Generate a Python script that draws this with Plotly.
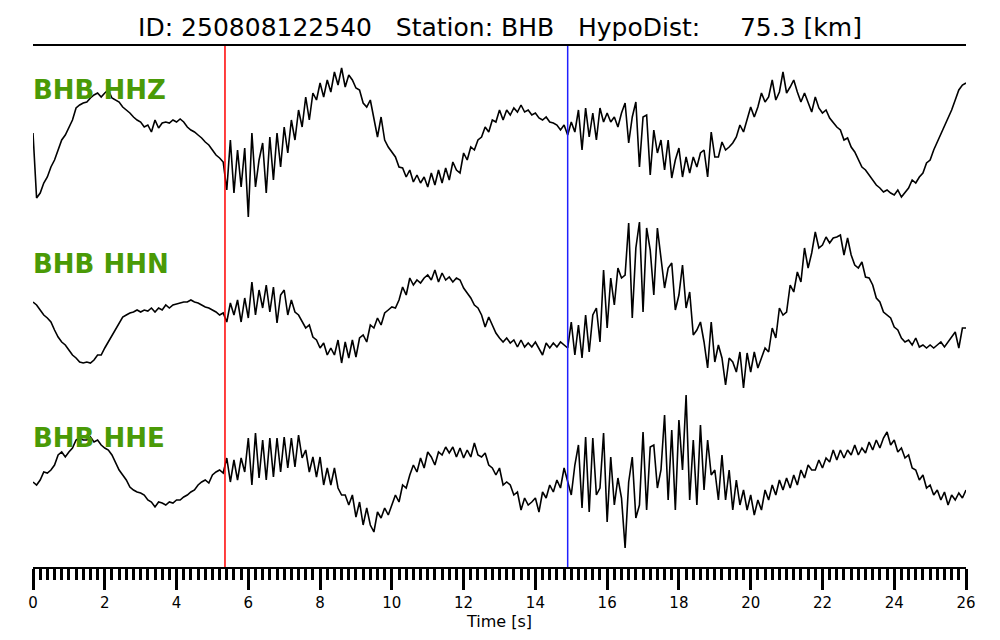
import numpy as np
import plotly.graph_objects as go

# ---- data ----
DT = 0.1  # sampling interval [s]
P_PICK = 5.35   # s
S_PICK = 14.9   # s
STATION = "BHB"
EVENT_ID = "250808122540"
HYPO_DIST = 75.3
CHANNELS = ["HHZ", "HHN", "HHE"]

hhz = [
    10, -55, -50, -40, -34, -24, -17, -7, 3, 8,
    15, 23, 35, 38, 40, 41, 45, 48, 50, 46,
    50, 53, 45, 43, 41, 36, 33, 30, 26, 23,
    21, 16, 18, 11, 23, 15, 20, 21, 20, 23,
    21, 24, 21, 16, 13, 11, 8, 5, 1, -2,
    -7, -12, -15, -19, -47, 3, -50, -7, -44, -5,
    -74, 10, -44, -17, 0, -50, 6, -37, 10, -24,
    16, -10, 23, 3, 33, 16, 46, 23, 50, 43,
    60, 46, 63, 51, 71, 58, 75, 56, 68, 63,
    55, 53, 40, 36, 43, 26, 6, 26, 3, -4,
    -9, -14, -24, -25, -34, -27, -39, -32, -40, -34,
    -44, -30, -42, -27, -40, -25, -37, -19, -27, -30,
    -10, -17, -4, -7, 3, 6, 16, 11, 23, 21,
    33, 23, 33, 28, 35, 31, 38, 31, 33, 28,
    30, 25, 23, 26, 21, 20, 18, 13, 18, 8,
    21, 11, 33, -7, 35, 6, 30, 3, 35, 21,
    30, 21, 26, 16, 30, 40, 0, 26, 41, -24,
    26, 28, -32, 13, -10, 3, -27, 3, -35, -17,
    -5, -34, -14, -30, -14, -24, -10, -7, -34, 11,
    -14, -14, 1, -7, -4, 0, 6, 18, 11, 23,
    36, 26, 36, 50, 41, 46, 63, 43, 51, 71,
    50, 56, 63, 51, 41, 50, 41, 31, 46, 35,
    30, 33, 25, 20, 16, 13, 3, 5, -4, -9,
    -17, -24, -27, -32, -37, -42, -45, -49, -47, -50,
    -52, -47, -54, -50, -45, -37, -40, -34, -30, -20,
    -17, -7, 1, 10, 18, 26, 33, 43, 53, 58,
    60,
]

hhn = [
    3, 0, -5, -10, -13, -17, -25, -32, -37, -40,
    -45, -50, -53, -57, -58, -57, -58, -55, -50, -50,
    -43, -37, -30, -25, -18, -12, -10, -8, -7, -5,
    -7, -5, -6, -3, -7, -3, -5, 0, -3, 0,
    1, 2, 3, 3, 5, 3, 2, 0, -2, -3,
    -5, -7, -10, -8, -17, 2, -10, 5, -17, 7,
    -13, 23, -10, 15, -3, 20, -7, 18, -18, 10,
    15, -10, 5, -7, -10, -17, -23, -20, -32, -35,
    -43, -38, -50, -43, -50, -35, -58, -37, -53, -35,
    -52, -33, -30, -37, -20, -23, -13, -20, -8, -5,
    -2, -3, 5, 18, 10, 27, 20, 25, 22, 27,
    30, 25, 35, 23, 32, 25, 28, 23, 27, 25,
    17, 12, 7, 0, -3, -10, -22, -12, -20, -28,
    -33, -37, -33, -38, -35, -42, -35, -42, -38, -42,
    -37, -43, -50, -38, -43, -38, -42, -37, -40, -43,
    -17, -50, -20, -53, -10, -47, -10, -3, -37, 35,
    -23, 27, 0, 37, 27, 30, 82, -13, 57, 83,
    -7, 77, 55, 10, 77, 47, 17, 37, 42, -5,
    10, 40, -3, 13, -30, -25, -17, -37, -63, -17,
    -57, -40, -53, -80, -53, -57, -67, -47, -83, -48,
    -67, -47, -63, -53, -43, -47, -23, -33, -3, -10,
    -7, 20, 13, 33, 23, 57, 37, 52, 73, 57,
    60, 68, 62, 67, 68, 70, 50, 67, 50, 40,
    37, 43, 28, 27, 20, 7, 3, -7, -10, -13,
    -22, -25, -33, -37, -35, -40, -33, -42, -40, -43,
    -40, -43, -40, -37, -42, -37, -33, -27, -43, -23,
    -23,
]

hhe = [
    -12, -15, -10, -2, -3, 0, 5, 15, 18, 13,
    18, 22, 30, 32, 30, 30, 33, 28, 30, 25,
    22, 20, 15, 7, 0, -5, -10, -17, -20, -22,
    -23, -25, -30, -32, -37, -32, -33, -35, -32, -33,
    -30, -30, -27, -25, -22, -20, -15, -12, -10, -13,
    -5, -2, 0, -3, 12, -12, 10, -10, 12, -2,
    32, -15, 37, -8, 30, -10, 32, -7, 32, -2,
    33, 2, 32, 3, 35, 12, 20, -2, 13, -7,
    13, -15, 2, -15, 2, -18, -25, -25, -35, -25,
    -47, -32, -55, -38, -55, -62, -42, -48, -38, -45,
    -35, -25, -32, -15, -18, -5, 5, -2, 12, 2,
    18, 13, 5, 18, 15, 23, 17, 23, 13, 22,
    12, 20, 13, 27, 15, 13, 17, 5, 2, -5,
    2, -15, -12, -15, -25, -22, -40, -28, -35, -32,
    -28, -42, -22, -28, -15, -22, -10, -18, 2, -12,
    -25, 5, 25, -38, 33, -42, 32, -25, -18, 37,
    -52, 13, -35, -8, -28, -78, -12, 13, -48, -35,
    38, -40, 23, 25, -18, 0, 55, -30, 40, -40,
    50, 0, 75, -30, 30, -35, 45, -20, 30, -5,
    0, -30, 15, -30, 0, -40, -10, -35, -20, -40,
    -25, -45, -30, -40, -20, -30, -15, -25, -10, -20,
    -8, -18, -5, -15, 0, -8, 5, 0, 0, 10,
    2, 12, 8, 20, 10, 20, 12, 20, 15, 25,
    15, 22, 17, 28, 20, 30, 22, 32, 38, 25,
    30, 18, 22, 12, 15, 2, 0, -10, -5, -18,
    -15, -25, -20, -30, -22, -35, -25, -30, -23, -28,
    -20,
]

xtick_vals = list(range(0, 27, 2))

# ---- figure ----
time = np.arange(len(hhz)) * DT
series = [hhz, hhn, hhe]
axes = ["y", "y2", "y3"]

fig = go.Figure()
for vals, ax in zip(series, axes):
    fig.add_trace(go.Scatter(x=time[:len(vals)], y=vals, mode="lines", yaxis=ax,
                             line=dict(color="black", width=1.6), hoverinfo="skip",
                             showlegend=False))

font_main = "DejaVu Sans, Verdana, sans-serif"
nb = "\u00a0"
title_txt = (f"ID: {EVENT_ID}{nb*3}Station: {STATION}{nb*3}HypoDist:{nb*5}"
             f"{HYPO_DIST:.1f} [km]")

yax_common = dict(visible=False, showgrid=False, zeroline=False, fixedrange=True,
                  automargin=False)

# the page body adds an 8 px offset, so the figure is 992x632
FIG_W, FIG_H = 992, 632

fig.update_layout(
    width=FIG_W, height=FIG_H,
    margin=dict(l=25, r=34, t=38, b=73, autoexpand=False),
    paper_bgcolor="white", plot_bgcolor="white",
    title=dict(text=title_txt, x=(500 - 8) / FIG_W, xanchor="center",
               y=1 - 19 / FIG_H, yanchor="middle",
               font=dict(family=font_main, size=25, color="black")),
    xaxis=dict(range=[0, 26], showgrid=False, zeroline=False, automargin=False,
               showline=True, linecolor="black", linewidth=2, mirror=True,
               ticks="outside", tickvals=xtick_vals, ticklen=21, tickwidth=3,
               tickcolor="black",
               tickfont=dict(family=font_main, size=15, color="black"),
               minor=dict(dtick=0.2, ticks="outside", ticklen=11, tickwidth=3,
                          tickcolor="black", showgrid=False),
               title=dict(text="Time [s]", standoff=0,
                          font=dict(family=font_main, size=16, color="black"))),
    yaxis=dict(range=[-424, 97], **yax_common),
    yaxis2=dict(range=[-262, 259], overlaying="y", **yax_common),
    yaxis3=dict(range=[-97, 424], overlaying="y", **yax_common),
)

# pick lines
for xp, col in [(P_PICK, "#ff0000"), (S_PICK, "#2020ff")]:
    fig.add_shape(type="line", xref="x", yref="paper", x0=xp, x1=xp, y0=0, y1=1,
                  line=dict(color=col, width=1.5), layer="above")

# channel labels
label_y = [0.9155, 0.5816, 0.2476]
for ch, ly in zip(CHANNELS, label_y):
    fig.add_annotation(text=f"<b>{STATION} {ch}</b>", xref="paper", yref="paper",
                       x=-0.002, y=ly, xanchor="left", yanchor="middle", showarrow=False,
                       font=dict(family=font_main, size=26, color="#4a9a06"))

fig.write_html("out.html")
